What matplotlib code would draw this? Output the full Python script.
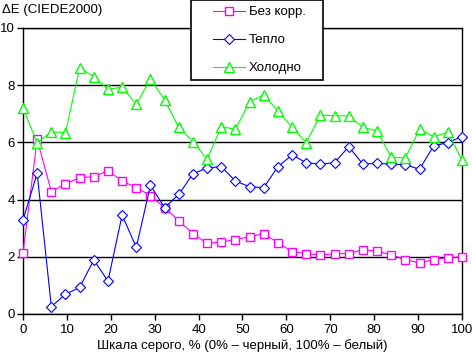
import matplotlib.pyplot as plt
from matplotlib.patches import Rectangle
import numpy as np

# значения (32 точки шкалы серого)
x = np.linspace(0, 100, 32)

bez_korr = [2.14, 6.11, 4.28, 4.55, 4.77, 4.80, 5.01, 4.65, 4.42, 4.14, 3.72, 3.26,
            2.81, 2.47, 2.52, 2.60, 2.70, 2.81, 2.49, 2.18, 2.11, 2.06, 2.11, 2.11,
            2.25, 2.20, 2.07, 1.90, 1.79, 1.90, 1.97, 2.00]
teplo = [3.29, 4.92, 0.26, 0.69, 0.93, 1.89, 1.15, 3.46, 2.33, 4.50, 3.72, 4.18,
         4.90, 5.11, 5.15, 4.65, 4.45, 4.42, 5.15, 5.56, 5.29, 5.24, 5.29, 5.85,
         5.24, 5.27, 5.24, 5.22, 5.06, 5.88, 5.99, 6.20]
holodno = [7.19, 5.99, 6.37, 6.34, 8.61, 8.30, 7.86, 7.93, 7.33, 8.22, 7.48, 6.53,
           6.03, 5.41, 6.55, 6.46, 7.42, 7.66, 7.10, 6.53, 5.99, 6.96, 6.93, 6.93,
           6.53, 6.40, 5.48, 5.46, 6.46, 6.20, 6.35, 5.38]

labels = ["Без корр.", "Тепло", "Холодно"]
xticks = np.arange(0, 101, 10)
yticks = np.arange(0, 11, 2)

plt.rcParams['font.family'] = ['Liberation Sans', 'DejaVu Sans']
plt.rcParams['font.size'] = 9.5

fig = plt.figure(figsize=(4.72, 3.57), dpi=100)
ax = fig.add_axes([23 / 472, 1 - 314 / 357, 439 / 472, 286 / 357])

ax.plot(x, bez_korr, c="#ff00ff", lw=0.8, marker="s", ms=5.5, mfc="white",
        mec="#ff00ff", mew=1.0, label=labels[0], clip_on=False, zorder=3)
ax.plot(x, teplo, c="#0000ff", lw=0.8, marker="D", ms=4.8, mfc="white",
        mec="#0000ff", mew=0.8, label=labels[1], clip_on=False, zorder=3)
ax.plot(x, holodno, c="#00ff00", lw=0.8, marker="^", ms=7.0, mfc="white",
        mec="#00ff00", mew=1.0, label=labels[2], clip_on=False, zorder=3)

ax.set_xlim(0, 100)
ax.set_ylim(0, 10)
ax.set_xticks(xticks)
ax.set_yticks(yticks)
ax.grid(axis="y", color="black", lw=1)
ax.set_axisbelow(True)
ax.tick_params(direction="out", length=4, width=1, colors="black", labelsize=9.5)
ax.tick_params(axis="y", pad=2)
for s in ax.spines.values():
    s.set_linewidth(1)

ax.set_xlabel("Шкала серого, % (0% – черный, 100% – белый)", fontsize=9.5, labelpad=2)
fig.text(2 / 472, 1 - 10 / 357, "ΔE (CIEDE2000)", fontsize=9.5, va="center", ha="left")

# рамка легенды
fig.patches.append(Rectangle((191 / 472, 1 - 80 / 357), 132 / 472, 80 / 357,
                             transform=fig.transFigure, facecolor="white",
                             edgecolor="black", lw=1.2, zorder=5))
leg = fig.legend(loc="upper left", bbox_to_anchor=(213 / 472, 1 - 6 / 357), frameon=False,
                 fontsize=9.5, handlelength=2.4, labelspacing=1.2, borderpad=0,
                 handletextpad=0.3, borderaxespad=0)
leg.set_zorder(6)

plt.savefig("out.png", dpi=100)
